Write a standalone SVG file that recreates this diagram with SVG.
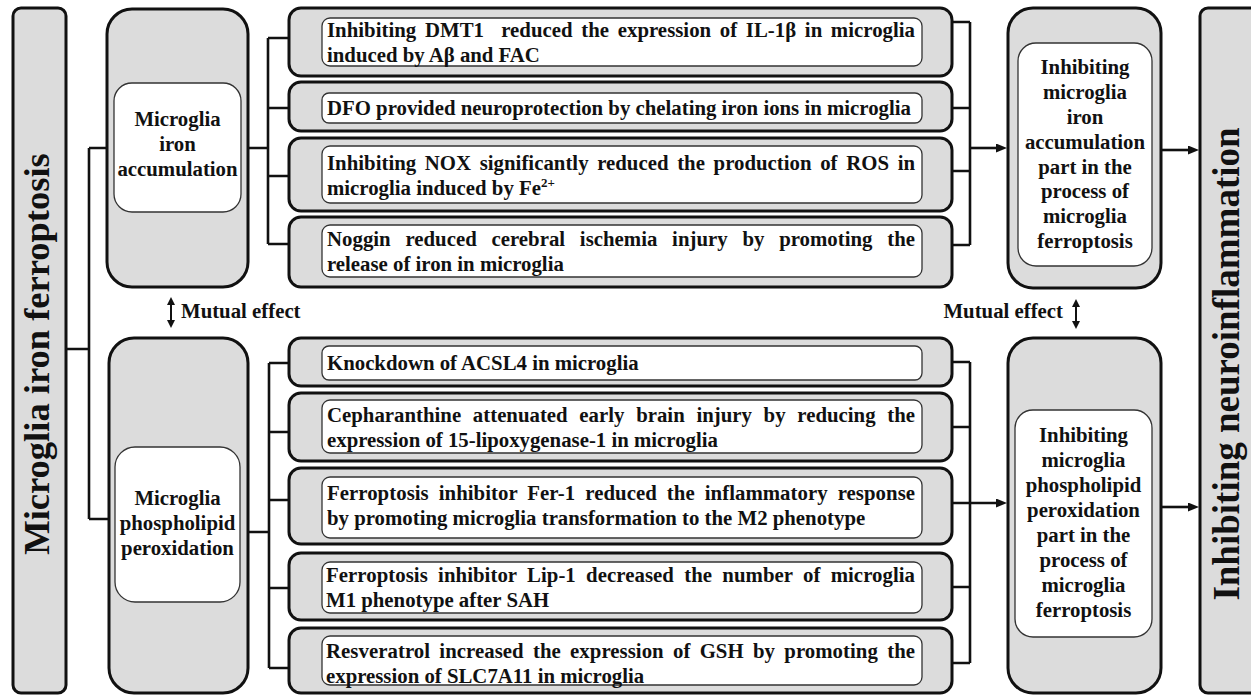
<svg xmlns="http://www.w3.org/2000/svg" width="1251" height="696" viewBox="0 0 1251 696">
<style>
.ob{fill:#dcdcdc;stroke:#111;stroke-width:3}
.ib{fill:#fff;stroke:#333;stroke-width:1.3}
.t{font-family:"Liberation Serif","Times New Roman",serif;font-weight:bold;font-size:20.8px;fill:#111}
.c{text-anchor:middle}
.big{font-family:"Liberation Serif","Times New Roman",serif;font-weight:bold;fill:#111;text-anchor:middle}
.conn{fill:none;stroke:#111;stroke-width:2.6}
.mut{fill:none;stroke:#111;stroke-width:2}
</style>
<defs>
<marker id="ah" markerWidth="12" markerHeight="9" refX="1" refY="4.5" orient="auto" markerUnits="userSpaceOnUse"><path d="M0,0 L11,4.5 L0,9 z" fill="#111"/></marker>
<marker id="mh" markerWidth="9" markerHeight="8" refX="1" refY="4" orient="auto-start-reverse" markerUnits="userSpaceOnUse"><path d="M0,0 L8,4 L0,8 z" fill="#111"/></marker>
</defs>

<g id="connectors">
<path class="conn" d="M66,349 H89 M89,148 V519 M89,148 H107 M89,519 H109"/>
<path class="conn" d="M248,148 H268 M268,38 V244 M268,38 H289 M268,108 H289 M268,176 H289 M268,244 H289"/>
<path class="conn" d="M247,532 H269 M269,363 V668 M269,363 H289 M269,432 H289 M269,500 H289 M269,588 H289 M269,668 H289"/>
<path class="conn" d="M952,22 H970 M952,108 H970 M952,171 H970 M952,245 H970 M970,22 V245"/>
<line class="conn" x1="970" y1="148" x2="997" y2="148" marker-end="url(#ah)"/>
<path class="conn" d="M952,362 H970 M952,427 H970 M952,587 H970 M952,663 H970 M970,362 V663"/>
<line class="conn" x1="952" y1="503" x2="997" y2="503" marker-end="url(#ah)"/>
<line class="conn" x1="1161" y1="150" x2="1189" y2="150" marker-end="url(#ah)"/>
<line class="conn" x1="1161" y1="507" x2="1189" y2="507" marker-end="url(#ah)"/>
<line class="mut" x1="171" y1="304" x2="171" y2="321" marker-start="url(#mh)" marker-end="url(#mh)"/>
<line class="mut" x1="1076" y1="306" x2="1076" y2="322" marker-start="url(#mh)" marker-end="url(#mh)"/>
</g>

<g id="n-left">
<rect class="ob" x="13" y="8" width="53" height="685" rx="8"/>
<text class="big" font-size="36.5" transform="translate(49,354) rotate(-90)">Microglia iron ferroptosis</text>
</g>

<g id="n-right">
<rect class="ob" x="1200" y="8" width="70" height="685" rx="8"/>
<text class="big" font-size="37" transform="translate(1239,364) rotate(-90)">Inhibiting neuroinflammation</text>
</g>

<g id="n-iron">
<rect class="ob" x="107" y="9" width="141" height="278" rx="25"/>
<rect class="ib" x="114" y="83" width="127" height="129" rx="18"/>
<text class="t c" x="177.5" y="126">Microglia</text>
<text class="t c" x="177.5" y="151">iron</text>
<text class="t c" x="177.5" y="176">accumulation</text>
</g>

<g id="n-phos">
<rect class="ob" x="109" y="338" width="139" height="355" rx="25"/>
<rect class="ib" x="115" y="447" width="125" height="155" rx="20"/>
<text class="t c" x="177.5" y="505">Microglia</text>
<text class="t c" x="177.5" y="530">phospholipid</text>
<text class="t c" x="177.5" y="555">peroxidation</text>
</g>

<g id="mutual-labels">
<text class="t" x="181" y="318">Mutual effect</text>
<text class="t" x="1063" y="318" text-anchor="end">Mutual effect</text>
</g>

<g id="e-u1">
<rect class="ob" x="289" y="8" width="663" height="68" rx="12"/>
<rect class="ib" x="322" y="18" width="600" height="48" rx="8"/>
<text class="t" x="327" y="37" xml:space="preserve" word-spacing="3.4" textLength="588" lengthAdjust="spacing">Inhibiting DMT1  reduced the expression of IL-1β in microglia</text>
<text class="t" x="327" y="62">induced by Aβ and FAC</text>
</g>

<g id="e-u2">
<rect class="ob" x="289" y="82" width="663" height="49" rx="12"/>
<rect class="ib" x="322" y="93" width="600" height="30" rx="7"/>
<text class="t" x="327" y="115">DFO provided neuroprotection by chelating iron ions in microglia</text>
</g>

<g id="e-u3">
<rect class="ob" x="289" y="138" width="663" height="73" rx="12"/>
<rect class="ib" x="322" y="146" width="600" height="57" rx="8"/>
<text class="t" x="327" y="170" word-spacing="3.4" textLength="588" lengthAdjust="spacing">Inhibiting NOX significantly reduced the production of ROS in</text>
<text class="t" x="327" y="195">microglia induced by Fe<tspan font-size="13" dy="-8">2+</tspan></text>
</g>

<g id="e-u4">
<rect class="ob" x="289" y="217" width="663" height="70" rx="12"/>
<rect class="ib" x="322" y="225" width="600" height="52" rx="8"/>
<text class="t" x="327" y="246" word-spacing="9.5" textLength="588" lengthAdjust="spacing">Noggin reduced cerebral ischemia injury by promoting the</text>
<text class="t" x="327" y="271">release of iron in microglia</text>
</g>

<g id="e-l1">
<rect class="ob" x="289" y="338" width="663" height="48" rx="12"/>
<rect class="ib" x="322" y="346" width="600" height="34" rx="7"/>
<text class="t" x="327" y="370">Knockdown of ACSL4 in microglia</text>
</g>

<g id="e-l2">
<rect class="ob" x="289" y="393" width="663" height="68" rx="12"/>
<rect class="ib" x="322" y="400" width="600" height="53" rx="8"/>
<text class="t" x="327" y="422" word-spacing="6.5" textLength="588" lengthAdjust="spacing">Cepharanthine attenuated early brain injury by reducing the</text>
<text class="t" x="327" y="447">expression of 15-lipoxygenase-1 in microglia</text>
</g>

<g id="e-l3">
<rect class="ob" x="289" y="468" width="663" height="76" rx="12"/>
<rect class="ib" x="322" y="477" width="600" height="61" rx="8"/>
<text class="t" x="327" y="500" word-spacing="4.8" textLength="588" lengthAdjust="spacing">Ferroptosis inhibitor Fer-1 reduced the inflammatory response</text>
<text class="t" x="327" y="525">by promoting microglia transformation to the M2 phenotype</text>
</g>

<g id="e-l4">
<rect class="ob" x="289" y="553" width="663" height="67" rx="12"/>
<rect class="ib" x="322" y="562" width="600" height="51" rx="8"/>
<text class="t" x="326" y="582" word-spacing="5" textLength="589" lengthAdjust="spacing">Ferroptosis inhibitor Lip-1 decreased the number of microglia</text>
<text class="t" x="326" y="607">M1 phenotype after SAH</text>
</g>

<g id="e-l5">
<rect class="ob" x="289" y="628" width="663" height="65" rx="12"/>
<rect class="ib" x="322" y="636" width="600" height="49" rx="8"/>
<text class="t" x="326" y="658" word-spacing="4" textLength="589" lengthAdjust="spacing">Resveratrol increased the expression of GSH by promoting the</text>
<text class="t" x="326" y="683">expression of SLC7A11 in microglia</text>
</g>

<g id="n-out1">
<rect class="ob" x="1008" y="8" width="153" height="280" rx="25"/>
<rect class="ib" x="1018" y="43" width="134" height="223" rx="18"/>
<text class="t c" x="1085" y="74">Inhibiting</text>
<text class="t c" x="1085" y="99">microglia</text>
<text class="t c" x="1085" y="124">iron</text>
<text class="t c" x="1085" y="149">accumulation</text>
<text class="t c" x="1085" y="174">part in the</text>
<text class="t c" x="1085" y="198">process of</text>
<text class="t c" x="1085" y="223">microglia</text>
<text class="t c" x="1085" y="248">ferroptosis</text>
</g>

<g id="n-out2">
<rect class="ob" x="1008" y="338" width="153" height="355" rx="25"/>
<rect class="ib" x="1015" y="410" width="137" height="227" rx="18"/>
<text class="t c" x="1083.5" y="442">Inhibiting</text>
<text class="t c" x="1083.5" y="467">microglia</text>
<text class="t c" x="1083.5" y="492">phospholipid</text>
<text class="t c" x="1083.5" y="517">peroxidation</text>
<text class="t c" x="1083.5" y="542">part in the</text>
<text class="t c" x="1083.5" y="567">process of</text>
<text class="t c" x="1083.5" y="592">microglia</text>
<text class="t c" x="1083.5" y="617">ferroptosis</text>
</g>
</svg>
